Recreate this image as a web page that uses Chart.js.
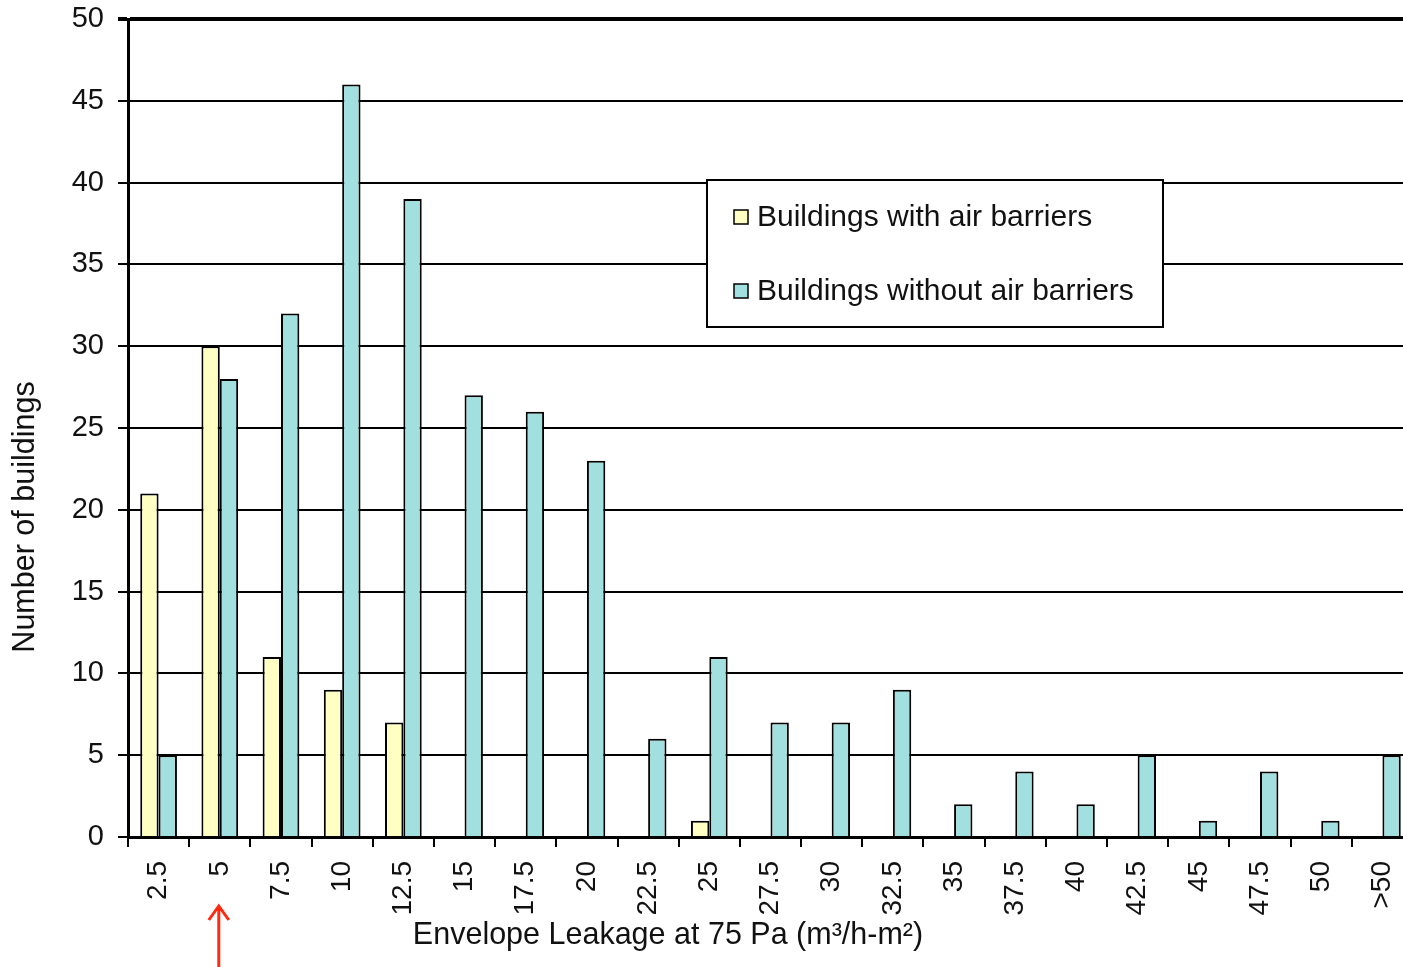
<!DOCTYPE html>
<html lang="en">
<head>
  <meta charset="UTF-8">
  <title>Envelope Leakage at 75 Pa</title>
  <script src="https://cdn.jsdelivr.net/npm/chart.js"></script>
  <style>
    html, body {
      margin: 0;
      padding: 0;
      background: #fff;
      overflow: hidden;
    }
    canvas {
      display: block;
    }
  </style>
</head>
<body>
  <canvas id="leakChart" width="1413" height="967"></canvas>

  <script>
    // Data
    const categories = ['2.5', '5', '7.5', '10', '12.5', '15', '17.5', '20', '22.5', '25', '27.5',
      '30', '32.5', '35', '37.5', '40', '42.5', '45', '47.5', '50', '>50'];
    const withBarriers = [21, 30, 11, 9, 7, 0, 0, 0, 0, 1, 0, 0, 0, 0, 0, 0, 0, 0, 0, 0, 0];
    const withoutBarriers = [5, 28, 32, 46, 39, 27, 26, 23, 6, 11, 7, 7, 9, 2, 4, 2, 5, 1, 4, 1, 5];
    const seriesLabels = ['Buildings with air barriers', 'Buildings without air barriers'];
    const xTitle = 'Envelope Leakage at 75 Pa (m\u00b3/h-m\u00b2)';
    const yTitle = 'Number of buildings';

    const FONT = '"Liberation Sans", Arial, sans-serif';

    // legend box, axis titles and the red arrow are drawn by hand
    const extras = {
      id: 'extras',
      afterDraw(chart) {
        const ctx = chart.ctx;
        const x = chart.scales.x;
        ctx.save();

        // legend
        ctx.fillStyle = '#fff';
        ctx.fillRect(707, 180, 456, 147);
        ctx.strokeStyle = '#000';
        ctx.lineWidth = 2;
        ctx.strokeRect(707, 180, 456, 147);
        ctx.font = '30px ' + FONT;
        ctx.textBaseline = 'middle';
        chart.data.datasets.forEach((ds, i) => {
          const cy = 217 + i * 74;
          ctx.fillStyle = ds.backgroundColor;
          ctx.fillRect(734, cy - 7, 14, 14);
          ctx.lineWidth = 1.5;
          ctx.strokeRect(734, cy - 7, 14, 14);
          ctx.fillStyle = '#111';
          ctx.fillText(ds.label, 757, cy + 1);
        });

        // x axis title
        ctx.textAlign = 'center';
        ctx.fillStyle = '#111';
        ctx.font = '30.5px ' + FONT;
        ctx.fillText(xTitle, 668, 936);

        // y axis title
        ctx.save();
        ctx.translate(26, 517);
        ctx.rotate(-Math.PI / 2);
        ctx.fillText(yTitle, 0, 0);
        ctx.restore();

        // red arrow under the "5" label
        const ax = x.getPixelForValue(1) - 1;
        ctx.strokeStyle = '#ff2a10';
        ctx.lineWidth = 3;
        ctx.beginPath();
        ctx.moveTo(ax, 967);
        ctx.lineTo(ax, 907);
        ctx.moveTo(ax - 10, 920);
        ctx.lineTo(ax, 906);
        ctx.lineTo(ax + 10, 920);
        ctx.stroke();

        ctx.restore();
      }
    };

    new Chart(document.getElementById('leakChart'), {
      type: 'bar',
      data: {
        labels: categories,
        datasets: [{
          label: seriesLabels[0],
          data: withBarriers,
          backgroundColor: '#ffffc4',
          borderColor: '#000',
          borderWidth: 2
        }, {
          label: seriesLabels[1],
          data: withoutBarriers,
          backgroundColor: '#a2dfdf',
          borderColor: '#000',
          borderWidth: 2
        }]
      },
      options: {
        responsive: false,
        animation: false,
        layout: {
          padding: { top: 19, right: 0, bottom: 0, left: 0 }
        },
        datasets: {
          bar: {
            categoryPercentage: 0.6,
            barPercentage: 1
          }
        },
        plugins: {
          legend: { display: false },
          tooltip: { enabled: false }
        },
        scales: {
          x: {
            grid: {
              drawOnChartArea: false,
              color: '#000',
              lineWidth: 2,
              tickLength: 10
            },
            border: { color: '#000', width: 3 },
            ticks: {
              autoSkip: false,
              minRotation: 90,
              maxRotation: 90,
              padding: 14,
              color: '#111',
              font: { family: FONT, size: 28 }
            },
            afterFit(scale) {
              scale.height = 130;
              // plot runs to the right edge (cropped like the source)
              scale.paddingLeft = 0;
              scale.paddingRight = 0;
            }
          },
          y: {
            min: 0,
            max: 50,
            ticks: {
              stepSize: 5,
              padding: 14,
              color: '#111',
              font: { family: FONT, size: 29 }
            },
            grid: {
              color: '#000',
              lineWidth: (c) => (c.tick && c.tick.value === 50 ? 4 : 2),
              tickLength: 10
            },
            border: { color: '#000', width: 3 },
            afterFit(scale) {
              scale.width = 128;
              // let layout.padding decide the top gap
              scale.paddingTop = 0;
              scale.paddingBottom = 0;
            }
          }
        }
      },
      plugins: [extras]
    });
  </script>
</body>
</html>
